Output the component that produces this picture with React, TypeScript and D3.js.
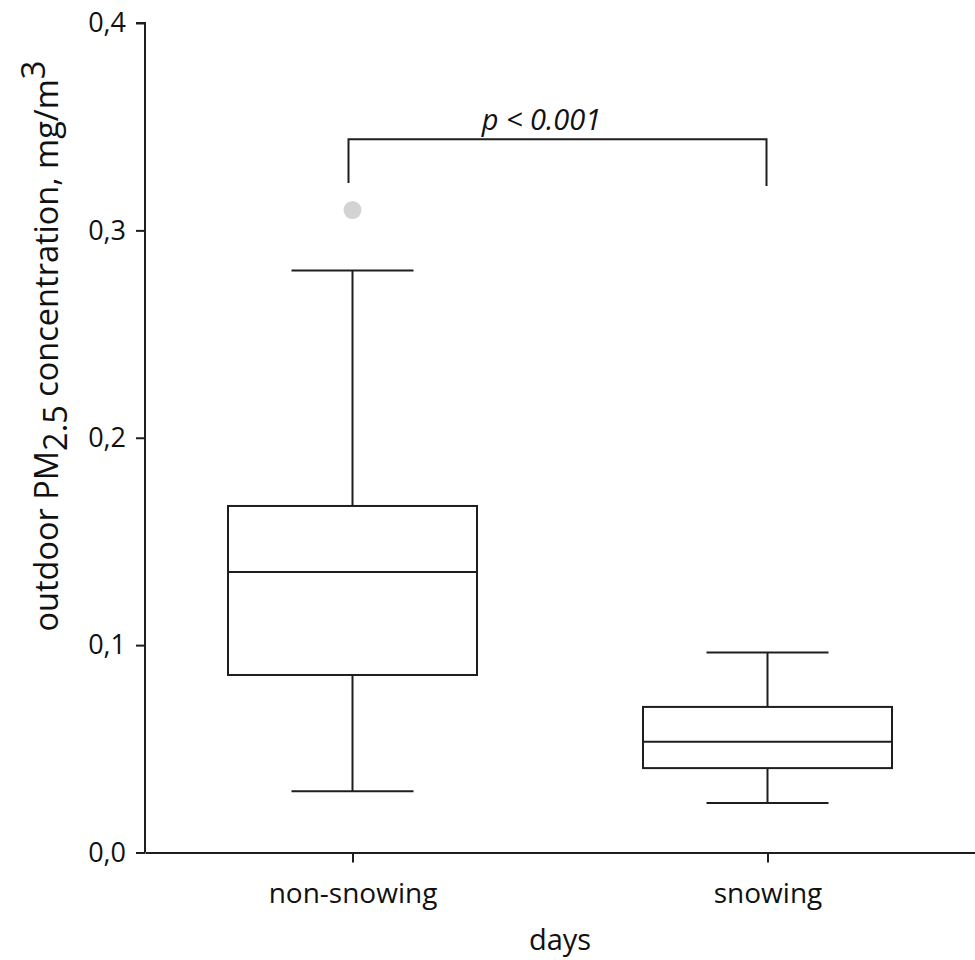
import React, { useRef, useEffect } from 'react';
import * as d3 from 'd3';

// categories and box statistics (mg/m3)
const categories = ['non-snowing', 'snowing'];
const whiskerLow = [0.0295, 0.0239];
const q1 = [0.0856, 0.0407];
const median = [0.1353, 0.0534];
const q3 = [0.1671, 0.0702];
const whiskerHigh = [0.2806, 0.0965];
const outliers = [{ cat: 'non-snowing', value: 0.3098 }];
const yTicks = [0, 0.1, 0.2, 0.3, 0.4];
const bracketValue = 0.344;
const bracketLegs = [0.3228, 0.3214];
const pLabel = 'p < 0.001';

export default function App() {
  const svgRef = useRef(null);
  const width = 975;
  const height = 960;

  useEffect(() => {
    const svg = d3.select(svgRef.current);
    svg.selectAll('*').remove();

    const font = '"Open Sans", "DejaVu Sans", sans-serif';
    const ink = '#1e1e1e';

    const x = d3.scalePoint().domain(categories).range([145, 975]).padding(0.5);
    const step = x.step();
    const y = d3.scaleLinear().domain([0, 0.4]).range([852.5, 23]);

    const boxW = step * 0.6;
    const capW = step * 0.294;

    // y axis
    const yAxis = svg.append('g')
      .attr('transform', 'translate(145,0)')
      .call(d3.axisLeft(y).tickValues(yTicks).tickSize(9).tickPadding(10)
        .tickFormat(d => d3.format('.1f')(d).replace('.', ',')));
    yAxis.select('.domain').attr('d', `M-9,${y(0.4)}H0V${y(0)}`).attr('stroke', ink).attr('stroke-width', 2);
    yAxis.selectAll('.tick line').attr('stroke', ink).attr('stroke-width', 2);
    yAxis.selectAll('.tick text').attr('font-family', font).attr('font-size', 27).attr('fill', '#111');

    // x axis
    const xAxis = svg.append('g')
      .attr('transform', `translate(0,${y(0)})`)
      .call(d3.axisBottom(x).tickSize(10).tickPadding(21).tickSizeOuter(0));
    xAxis.select('.domain').attr('stroke', ink).attr('stroke-width', 2);
    xAxis.selectAll('.tick line').attr('stroke', ink).attr('stroke-width', 2);
    xAxis.selectAll('.tick text').attr('font-family', font).attr('font-size', 28).attr('fill', '#111');

    // axis titles
    svg.append('text')
      .attr('x', 560).attr('y', 950)
      .attr('text-anchor', 'middle')
      .attr('font-family', font).attr('font-size', 29).attr('fill', '#111')
      .text('days');

    const yt = svg.append('text')
      .attr('transform', `translate(58,346) rotate(-90)`)
      .attr('text-anchor', 'middle')
      .attr('font-family', font).attr('font-size', 32.5).attr('fill', '#111');
    yt.append('tspan').text('outdoor PM');
    yt.append('tspan').attr('dy', 9).text('2.5');
    yt.append('tspan').attr('dy', -9).text(' concentration, mg/m');
    yt.append('tspan').attr('dy', -13).text('3');

    // boxes
    const g = svg.append('g').attr('fill', 'none').attr('stroke', ink).attr('stroke-width', 2);
    categories.forEach((c, i) => {
      const cx = x(c);
      // whiskers
      g.append('line').attr('x1', cx).attr('x2', cx).attr('y1', y(q3[i])).attr('y2', y(whiskerHigh[i]));
      g.append('line').attr('x1', cx).attr('x2', cx).attr('y1', y(q1[i])).attr('y2', y(whiskerLow[i]));
      g.append('line').attr('x1', cx - capW / 2).attr('x2', cx + capW / 2).attr('y1', y(whiskerHigh[i])).attr('y2', y(whiskerHigh[i]));
      g.append('line').attr('x1', cx - capW / 2).attr('x2', cx + capW / 2).attr('y1', y(whiskerLow[i])).attr('y2', y(whiskerLow[i]));
      // box
      g.append('rect')
        .attr('x', cx - boxW / 2).attr('width', boxW)
        .attr('y', y(q3[i])).attr('height', y(q1[i]) - y(q3[i]));
      g.append('line').attr('x1', cx - boxW / 2).attr('x2', cx + boxW / 2).attr('y1', y(median[i])).attr('y2', y(median[i]));
    });

    // outliers
    svg.selectAll('.outlier')
      .data(outliers)
      .enter()
      .append('circle')
      .attr('class', 'outlier')
      .attr('cx', d => x(d.cat))
      .attr('cy', d => y(d.value))
      .attr('r', 9)
      .attr('fill', '#d3d3d3');

    // significance bracket
    const x0 = x(categories[0]) - 4;
    const x1 = x(categories[1]) - 1;
    svg.append('path')
      .attr('d', `M${x0},${y(bracketLegs[0])}V${y(bracketValue)}H${x1}V${y(bracketLegs[1])}`)
      .attr('fill', 'none').attr('stroke', ink).attr('stroke-width', 2);
    svg.append('text')
      .attr('x', (x0 + x1) / 2 - 16).attr('y', y(bracketValue) - 9)
      .attr('text-anchor', 'middle')
      .attr('font-family', font).attr('font-size', 29).attr('font-style', 'italic').attr('fill', '#111')
      .text(pLabel);
  }, []);

  return (
    <svg ref={svgRef} width={width} height={height}
      style={{ position: 'absolute', left: 0, top: 0, background: '#fff' }} />
  );
}
